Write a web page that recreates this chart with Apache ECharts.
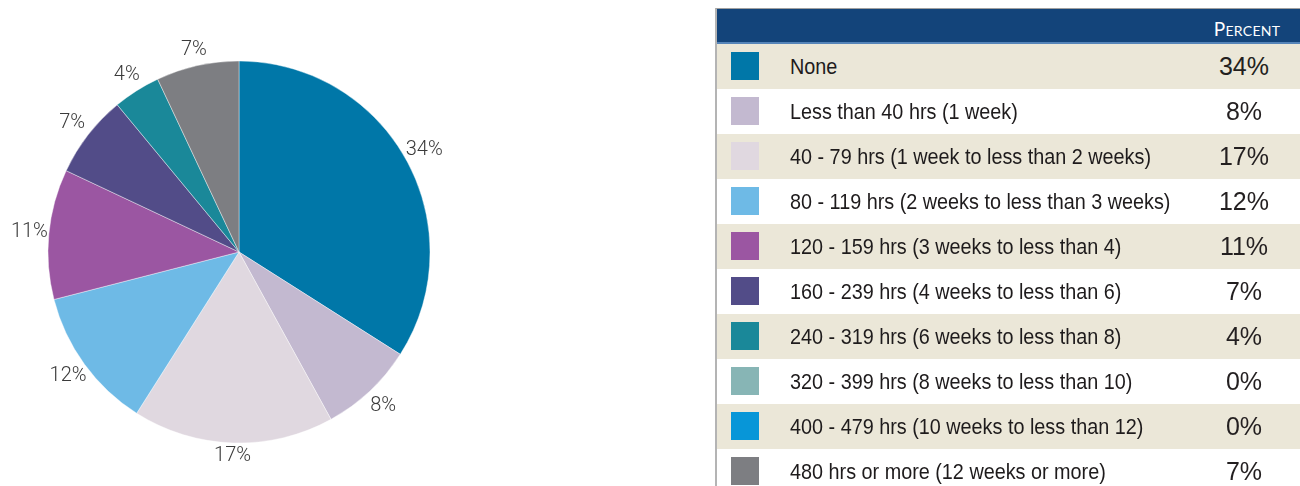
<!DOCTYPE html>
<html>
<head>
<meta charset="utf-8">
<script src="https://cdn.jsdelivr.net/npm/echarts@6/dist/echarts.min.js"></script>
<style>
  html, body { margin: 0; padding: 0; background: #fff; overflow: hidden; }
  #chart { position: absolute; left: 0; top: 0; width: 1300px; height: 486px; }
  #tbl { position: absolute; left: 715px; top: 8px; width: 620px; border-top: 1px solid #a0a0a0; border-left: 2px solid #b4b4b4; }
  #tbl .hdr { height: 33px; background: #13447a; border-bottom: 2px solid #5584b8; position: relative; }
  #tbl .hdr span.t { position: absolute; left: 490px; width: 80px; text-align: center; top: 8px; color: #fff; font-family: "Lato", "Open Sans", sans-serif; letter-spacing: 0.3px; }
  #tbl .row { height: 45px; position: relative; }
  #tbl .row.odd { background: #ebe7d8; }
  #tbl .sw { position: absolute; left: 14px; top: 8px; width: 28px; height: 28px; }
  #tbl .lab { position: absolute; left: 73px; top: 0; line-height: 45px; font-family: "Liberation Sans", Arial, sans-serif; font-size: 22px; color: #1e1b1c; white-space: nowrap; transform: scaleX(0.9); transform-origin: 0 50%; }
  #tbl .pct { position: absolute; left: 477px; width: 100px; text-align: center; top: 0; line-height: 45px; font-family: "Liberation Sans", Arial, sans-serif; font-size: 25px; color: #231f20; }
</style>
</head>
<body>
<div id="chart"></div>
<div id="tbl"></div>
<script>
// ---- data ----
var categories = [
  "None",
  "Less than 40 hrs (1 week)",
  "40 - 79 hrs (1 week to less than 2 weeks)",
  "80 - 119 hrs (2 weeks to less than 3 weeks)",
  "120 - 159 hrs (3 weeks to less than 4)",
  "160 - 239 hrs (4 weeks to less than 6)",
  "240 - 319 hrs (6 weeks to less than 8)",
  "320 - 399 hrs (8 weeks to less than 10)",
  "400 - 479 hrs (10 weeks to less than 12)",
  "480 hrs or more (12 weeks or more)"
];
var percentValues = [34, 8, 17, 12, 11, 7, 4, 0, 0, 7];
var sliceColors = ["#0077a8", "#c3b9d0", "#e0d8e0", "#6ebae6", "#9b56a2", "#524c88", "#1a8899", "#87b5b5", "#0796d8", "#7d7e82"];
var headerLabel = "Percent";

// ---- table (legend) ----
var tbl = document.getElementById('tbl');
var html = '<div class="hdr"><span class="t"><span style="font-size:19px">' + headerLabel.charAt(0).toUpperCase() +
  '</span><span style="font-size:14px">' + headerLabel.slice(1).toUpperCase() + '</span></span></div>';
for (var i = 0; i < categories.length; i++) {
  html += '<div class="row ' + (i % 2 === 0 ? 'odd' : 'even') + '">' +
    '<div class="sw" style="background:' + sliceColors[i] + '"></div>' +
    '<div class="lab">' + categories[i] + '</div>' +
    '<div class="pct">' + percentValues[i] + '%</div></div>';
}
tbl.innerHTML = html;

// ---- pie ----
var pieData = [];
for (var j = 0; j < categories.length; j++) {
  if (percentValues[j] > 0) {
    pieData.push({ name: categories[j], value: percentValues[j], itemStyle: { color: sliceColors[j] } });
  }
}
var CX = 239, CY = 252, R = 191;
var total = pieData.reduce(function (s, d) { return s + d.value; }, 0);

var chart = echarts.init(document.getElementById('chart'), null, { renderer: 'canvas' });
chart.setOption({
  animation: false,
  series: [{
    type: 'pie',
    center: [CX, CY],
    radius: [0, R],
    startAngle: 90,
    clockwise: true,
    avoidLabelOverlap: false,
    itemStyle: { borderColor: '#ffffff', borderWidth: 0.4 },
    label: {
      show: true,
      position: 'outside',
      formatter: '{c}%',
      fontFamily: 'Roboto, "Liberation Sans", sans-serif',
      fontWeight: 300,
      fontSize: 20,
      color: '#3a3a3a'
    },
    labelLine: { show: false, length: 8, length2: 0 },
    labelLayout: function (p) {
      var before = 0;
      for (var k = 0; k < p.dataIndex; k++) before += pieData[k].value;
      var mid = (before + pieData[p.dataIndex].value / 2) / total;
      var ang = (90 - 360 * mid) * Math.PI / 180;
      var c = Math.cos(ang), s = Math.sin(ang);
      var rr = R + 7 + 12 * Math.abs(c) + 6 * Math.abs(s);
      return {
        x: CX + rr * c,
        y: CY - rr * s,
        align: 'center',
        verticalAlign: 'middle'
      };
    },
    emphasis: { disabled: true },
    data: pieData
  }]
});
</script>
</body>
</html>
